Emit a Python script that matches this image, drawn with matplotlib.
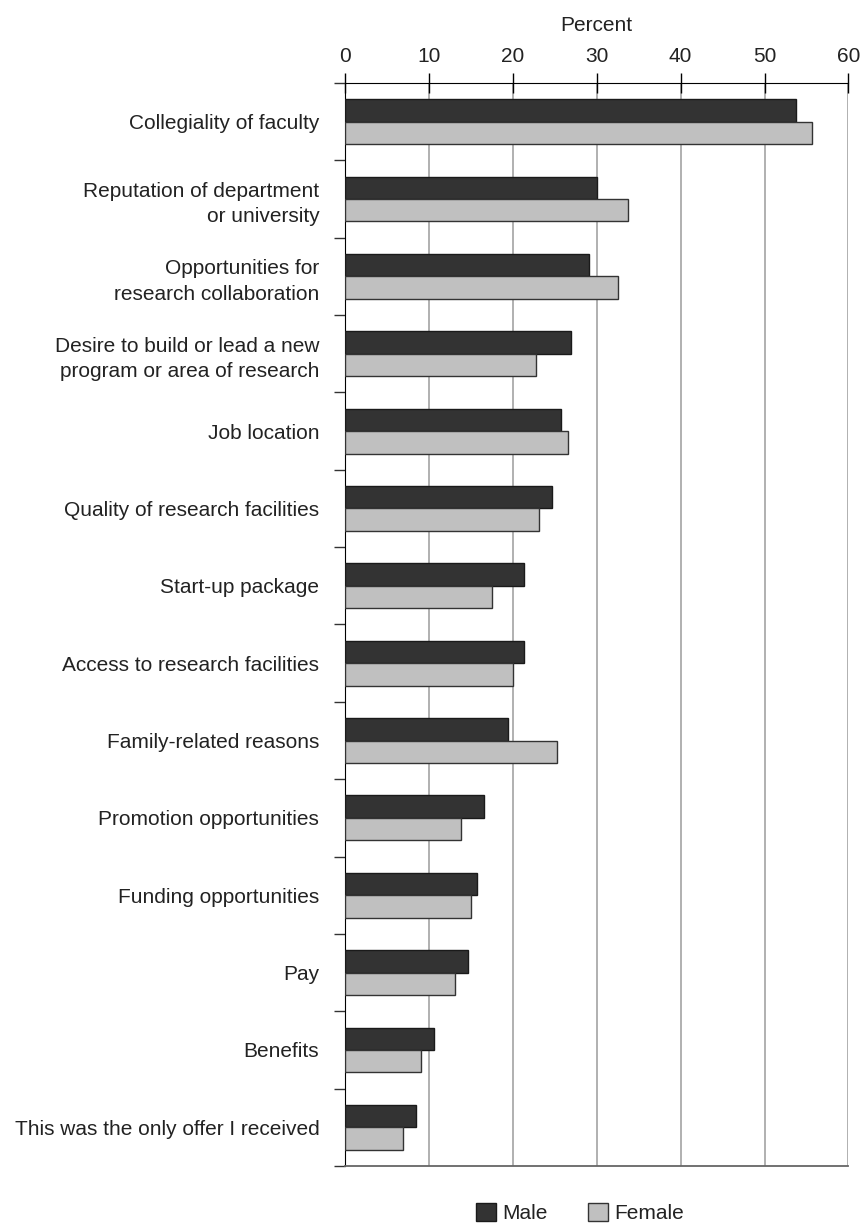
import matplotlib.pyplot as plt
import numpy as np
from matplotlib.patches import Patch

plt.rcParams["font.family"] = ["Liberation Sans", "DejaVu Sans"]

categories = [
    "Collegiality of faculty",
    "Reputation of department\nor university",
    "Opportunities for\nresearch collaboration",
    "Desire to build or lead a new\nprogram or area of research",
    "Job location",
    "Quality of research facilities",
    "Start-up package",
    "Access to research facilities",
    "Family-related reasons",
    "Promotion opportunities",
    "Funding opportunities",
    "Pay",
    "Benefits",
    "This was the only offer I received",
]
male = [53.8, 30.0, 29.1, 26.9, 25.7, 24.7, 21.3, 21.3, 19.4, 16.6, 15.7, 14.7, 10.6, 8.5]
female = [55.7, 33.7, 32.5, 22.8, 26.6, 23.1, 17.5, 20.0, 25.3, 13.8, 15.0, 13.1, 9.1, 6.9]

TEXT = "#222222"
MALE_C = "#333333"
FEMALE_C = "#c0c0c0"
GRID = "#aaaaaa"
FS = 15

fig = plt.figure(figsize=(8.62, 12.24), dpi=100)
ax = fig.add_axes([0.4002, 0.0474, 0.5841, 0.8848])

y = np.arange(len(categories))
h = 0.29
ax.barh(y - h / 2, male, height=h, color=MALE_C, edgecolor="#1a1a1a", linewidth=1, zorder=3)
ax.barh(y + h / 2, female, height=h, color=FEMALE_C, edgecolor="#333333", linewidth=1, zorder=3)

ax.set_xlim(0, 60)
ax.set_ylim(len(categories) - 0.5, -0.5)

ax.xaxis.tick_top()
ax.xaxis.set_label_position("top")
ax.set_xticks(np.arange(0, 61, 10))
ax.tick_params(axis="x", direction="inout", length=14, width=1, color="black",
               labelsize=FS, labelcolor=TEXT, pad=5)
ax.set_xlabel("Percent", fontsize=FS, color=TEXT, labelpad=12)
for gx in range(10, 61, 10):
    ax.axvline(gx, color=GRID, linewidth=1.3, zorder=1)

ax.set_yticks(np.arange(-0.5, len(categories), 1.0))
ax.set_yticklabels([])
ax.tick_params(axis="y", which="major", direction="out", length=8, width=1, color="#333333")
ax.set_yticks(y, minor=True)
ax.set_yticklabels(categories, minor=True, fontsize=FS, color=TEXT, linespacing=1.42)
ax.tick_params(axis="y", which="minor", length=0, pad=18.5)

ax.spines["right"].set_visible(False)
ax.spines["top"].set_color("black")
ax.spines["left"].set_color("black")
ax.spines["bottom"].set_color("#666666")
ax.spines["bottom"].set_linewidth(1.3)

handles = [Patch(facecolor=MALE_C, edgecolor="#1a1a1a", label="Male"),
           Patch(facecolor=FEMALE_C, edgecolor="#333333", label="Female")]
fig.legend(handles=handles, loc="center", bbox_to_anchor=(580 / 862, 1 - 1213 / 1224),
           ncol=2, frameon=False, fontsize=FS, handlelength=1.0, handleheight=1.0,
           handletextpad=0.3, columnspacing=1.9, labelcolor=TEXT, borderpad=0.1)

fig.savefig("out.png", dpi=100, facecolor="white")
